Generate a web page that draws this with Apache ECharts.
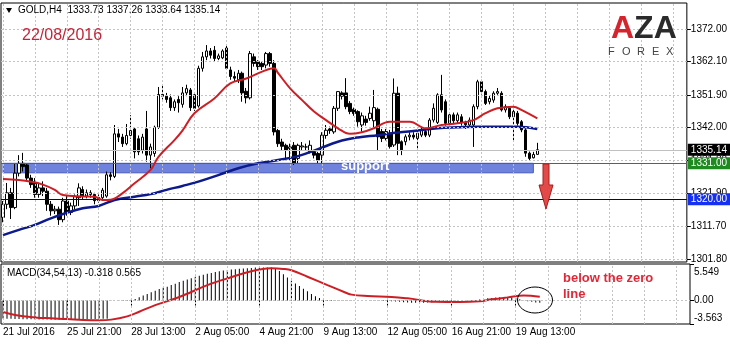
<!DOCTYPE html>
<html><head><meta charset="utf-8">
<script src="https://cdn.jsdelivr.net/npm/echarts@6/dist/echarts.min.js"></script>
<style>html,body{margin:0;padding:0;background:#fff}#c{width:730px;height:345px}</style>
</head><body><div id="c"></div>
<script>
// ---------- data ----------
const symbolName = 'GOLD,H4';
const dateText = '22/08/2016';
const slotCount = 172; // bars + empty right margin of the chart
const timeLabels = ['21 Jul 2016','25 Jul 21:00','28 Jul 13:00','2 Aug 05:00','4 Aug 21:00','9 Aug 13:00','12 Aug 05:00','16 Aug 21:00','19 Aug 13:00'];
const timeLabelBars = [0,16,32,48,64,80,96,112,128];
const gridBars = [0,8,16,24,32,40,48,56,64,72,80,88,96,104,112,120,128,136,144,152,160,168];
const priceTicks = [1372.00,1362.10,1351.90,1342.00,1331.80,1321.90,1311.70,1301.80];
const macdTicks = [5.549, 0, -3.563];
const supportBand = [1328.1, 1331.0];
const supportBars = [0, 133];
const levelSupport = 1331.00;
const levelTarget = 1320.00;
// [open, close, low, high]
const candles = [
[1314.5,1318.5,1313.0,1319.5],[1318.5,1322.0,1317.0,1325.0],[1322.0,1317.5,1314.0,1323.5],[1317.5,1328.0,1317.0,1331.0],
[1328.0,1331.0,1327.0,1333.5],[1331.0,1330.0,1328.5,1334.2],[1330.5,1326.5,1325.5,1331.0],[1326.5,1324.5,1323.5,1327.5],
[1325.0,1321.5,1320.5,1326.5],[1321.5,1323.5,1320.5,1325.0],[1323.5,1322.5,1321.0,1325.5],[1322.5,1318.5,1316.5,1323.5],
[1318.5,1316.5,1315.0,1319.5],[1316.5,1317.0,1315.5,1318.0],[1317.0,1313.8,1312.2,1317.8],[1313.8,1319.5,1313.0,1320.5],
[1319.5,1316.0,1315.0,1321.0],[1316.0,1318.0,1315.2,1319.0],[1318.0,1320.8,1317.0,1321.5],[1320.5,1323.5,1318.0,1324.9],
[1323.0,1321.0,1320.0,1324.0],[1321.0,1322.0,1320.3,1323.0],[1322.0,1321.5,1320.5,1322.8],[1321.5,1319.6,1318.5,1322.0],
[1319.6,1320.6,1319.0,1321.5],[1320.5,1322.8,1319.5,1323.5],[1321.0,1327.5,1320.5,1328.5],[1327.5,1327.0,1325.8,1328.3],
[1327.0,1340.0,1326.5,1342.7],[1340.0,1339.0,1337.5,1341.5],[1339.0,1337.0,1336.0,1340.0],[1337.0,1339.5,1336.5,1343.0],
[1339.5,1341.0,1338.5,1345.7],[1341.5,1334.5,1332.5,1342.0],[1338.5,1334.5,1333.5,1339.5],[1335.0,1339.0,1334.0,1340.0],
[1341.5,1333.5,1331.5,1347.0],[1333.5,1336.0,1329.5,1337.0],[1334.0,1342.0,1333.0,1342.5],[1342.0,1352.0,1341.5,1354.3],
[1352.0,1351.5,1350.5,1355.0],[1351.5,1350.5,1349.5,1352.5],[1351.0,1348.0,1347.0,1352.0],[1348.0,1349.8,1347.0,1350.5],
[1350.5,1349.5,1346.5,1351.5],[1349.0,1352.5,1348.0,1354.3],[1352.5,1353.8,1351.5,1355.0],[1353.4,1348.0,1347.0,1354.0],
[1351.9,1347.8,1347.0,1352.5],[1348.5,1360.0,1348.0,1360.8],[1360.0,1363.5,1359.0,1365.0],[1363.5,1365.3,1362.5,1367.1],
[1365.3,1364.0,1363.0,1366.2],[1365.5,1363.0,1362.0,1366.8],[1363.0,1363.8,1362.5,1364.5],[1363.2,1365.3,1362.8,1365.8],
[1366.2,1360.0,1359.5,1366.8],[1359.5,1357.5,1356.5,1360.5],[1357.5,1357.0,1356.0,1359.0],[1356.5,1358.5,1355.5,1359.5],
[1358.5,1352.5,1349.8,1359.0],[1353.0,1351.0,1349.3,1354.0],[1351.0,1364.5,1350.5,1365.3],[1363.5,1361.5,1360.5,1364.5],
[1362.0,1360.5,1359.5,1362.5],[1361.5,1360.5,1359.5,1362.2],[1361.0,1364.5,1360.0,1365.0],[1364.5,1361.5,1360.5,1365.0],
[1361.5,1340.6,1339.5,1362.5],[1341.0,1337.0,1336.0,1341.5],[1337.5,1336.2,1335.0,1338.5],[1336.5,1335.0,1332.5,1337.0],
[1335.5,1336.0,1332.0,1337.0],[1336.5,1331.1,1330.5,1337.5],[1332.5,1336.5,1331.0,1337.0],[1336.0,1336.3,1335.0,1337.5],
[1336.0,1336.0,1335.0,1337.0],[1334.5,1336.5,1334.0,1338.0],[1334.5,1333.5,1332.5,1335.0],[1334.0,1332.0,1331.0,1334.5],
[1333.5,1339.6,1331.0,1340.5],[1339.5,1341.1,1338.5,1342.7],[1341.5,1341.0,1340.0,1342.2],[1340.6,1347.8,1340.0,1348.5],
[1347.8,1352.9,1347.0,1353.0],[1352.5,1351.5,1350.5,1353.0],[1352.5,1348.3,1347.5,1357.0],[1349.3,1346.8,1346.0,1350.0],
[1347.5,1346.2,1345.5,1348.0],[1346.8,1343.7,1342.2,1347.2],[1342.7,1345.5,1340.7,1346.5],[1344.5,1343.5,1342.5,1345.5],
[1344.7,1346.3,1344.0,1348.3],[1344.0,1348.0,1341.5,1353.4],[1347.5,1339.1,1335.0,1348.0],[1340.7,1338.6,1337.5,1341.5],
[1338.6,1340.7,1338.0,1341.5],[1340.2,1336.1,1335.5,1341.2],[1336.6,1352.4,1336.0,1356.9],[1352.4,1337.1,1333.5,1354.4],
[1337.6,1335.1,1333.5,1338.0],[1337.6,1339.1,1336.5,1339.8],[1339.1,1339.6,1338.0,1340.5],[1339.6,1339.0,1338.3,1340.5],
[1338.6,1340.2,1335.6,1341.0],[1339.6,1341.2,1339.0,1342.0],[1340.7,1339.6,1339.0,1341.5],[1339.6,1344.2,1339.0,1344.8],
[1344.2,1347.8,1343.5,1349.3],[1343.5,1351.9,1343.0,1352.4],[1351.9,1347.3,1346.5,1358.0],[1349.8,1343.2,1342.5,1350.5],
[1343.2,1345.8,1342.5,1346.5],[1345.8,1344.0,1343.2,1346.5],[1344.0,1345.8,1343.3,1346.5],[1345.2,1343.5,1342.5,1346.0],
[1343.5,1342.8,1341.5,1344.0],[1342.7,1344.2,1341.8,1345.0],[1342.7,1348.3,1336.0,1349.0],[1348.3,1355.9,1347.5,1356.5],
[1355.9,1352.9,1352.0,1356.5],[1352.9,1349.3,1348.8,1353.5],[1349.8,1350.8,1349.0,1351.8],[1350.3,1352.4,1349.5,1353.0],
[1352.4,1352.9,1351.9,1354.0],[1352.4,1347.3,1346.8,1353.0],[1347.3,1348.3,1346.5,1349.0],[1347.8,1345.2,1344.5,1348.3],
[1345.2,1346.8,1337.6,1347.3],[1346.3,1343.2,1342.5,1347.0],[1343.7,1341.2,1340.5,1344.2],[1341.2,1334.1,1333.0,1341.7],
[1334.1,1332.5,1332.0,1334.6],[1332.7,1333.7,1332.5,1334.5],[1333.73,1335.14,1333.64,1337.26]
];
// moving averages read at sample bars: [bar, value]
const maRed = [[0,1326.2],[4,1325.9],[7,1325.4],[10,1324.5],[13,1322.9],[15,1321.3],[20,1320.9],[23,1320.8],[25,1319.8],[27,1319.9],
[30,1321.9],[33,1324.9],[37,1329.0],[39,1333.0],[43,1338.1],[45,1341.0],[48,1346.3],[53,1350.8],[57,1355.4],[61,1356.9],[65,1359.0],
[68,1360.0],[69,1358.5],[72,1353.9],[75,1350.3],[78,1346.8],[81,1344.2],[84,1341.7],[87,1340.0],[90,1340.5],[93,1341.7],[97,1343.7],
[102,1343.7],[106,1341.7],[110,1342.7],[114,1343.2],[118,1344.2],[121,1346.3],[124,1347.8],[128,1348.3],[130,1347.3],[134,1344.7]];
const maBlue = [[0,1309.1],[4,1310.7],[8,1312.2],[12,1314.2],[16,1315.9],[20,1317.3],[24,1318.0],[28,1319.8],[33,1320.8],[37,1321.6],
[41,1322.9],[45,1324.1],[49,1325.4],[54,1327.4],[59,1329.5],[64,1331.0],[69,1332.0],[74,1333.2],[79,1335.3],[84,1337.6],[89,1338.9],
[94,1339.6],[99,1340.4],[104,1341.0],[109,1341.7],[114,1342.0],[119,1342.2],[124,1342.2],[129,1342.2],[134,1341.5]];
// MACD histogram, one per bar
const macdHist = [
-2.72,-2.75,-2.78,-2.80,-2.82,-2.83,-2.85,-2.86,-2.87,-2.88,-2.88,-2.89,-2.90,-2.90,-2.90,-2.90,-2.90,-2.90,-2.88,-2.88,
-2.86,-2.85,-2.84,-2.82,-2.80,-2.78,-2.75,-0.05,0.02,0.05,0.08,0.10,0.12,0.25,0.50,0.75,1.00,1.25,1.50,1.75,
1.95,2.10,2.35,2.55,2.80,3.00,3.20,3.40,3.60,3.75,3.90,4.05,4.20,4.35,4.45,4.55,4.62,4.70,4.76,4.82,
4.87,4.90,4.95,5.00,5.02,5.03,5.03,5.00,4.90,4.50,4.00,3.50,3.00,2.60,2.20,1.80,1.40,1.00,0.65,0.40,
0.20,0.10,0.08,0.06,0.05,0.05,0.04,0.03,0.02,0.02,0.01,0.00,-0.02,-0.03,-0.05,-0.06,-0.08,-0.10,-0.15,-0.20,
-0.25,-0.30,-0.32,-0.35,-0.35,-0.33,-0.30,-0.25,-0.20,-0.15,-0.10,-0.08,-0.05,-0.03,0.00,0.02,0.05,0.08,0.10,0.15,
0.25,0.35,0.40,0.45,0.50,0.50,0.48,0.45,0.40,0.20,0.05,-0.10,-0.20,-0.28,-0.318];
const macdSignal = [[0,-1.75],[3,-2.2],[8,-2.56],[12,-2.7],[16,-2.8],[20,-2.95],[24,-3.0],[27,-2.9],[31,-2.4],[34,-1.7],[38,-0.7],
[43,0.3],[47,1.3],[51,2.35],[56,3.37],[61,4.3],[64,4.7],[67,4.9],[70,4.8],[72,4.6],[76,3.62],[81,2.35],[85,1.34],[87,0.9],[91,0.68],
[97,0.55],[101,0.33],[108,-0.18],[114,-0.22],[119,-0.1],[122,0.18],[126,0.48],[130,0.75],[134,0.565]];

// ---------- chart ----------
const FONT = 'Liberation Sans';
const cats = Array.from({length: slotCount}, (_, i) => String(i));
const last = candles[candles.length - 1];
const bid = last[1];
const headerText = symbolName + '  ' + [last[0], last[3], last[2], last[1]].map(v => v.toFixed(2)).join(' ');
const macdText = 'MACD(34,54,13) ' + macdHist[macdHist.length - 1].toFixed(3) + ' ' + macdSignal[macdSignal.length - 1][1].toFixed(3);
const dotted = {color: '#c4c4c4', width: 1, type: [2, 2]};
const macdMin = macdTicks[2], macdMax = macdTicks[0];

const chart = echarts.init(document.getElementById('c'), null, {renderer: 'canvas'});
const txt = {fontFamily: FONT, fontSize: 10, color: '#000'};
chart.setOption({
  animation: false,
  backgroundColor: '#fff',
  grid: [
    {left: 1, right: 40, top: 3, height: 259, show: true, borderColor: '#000', borderWidth: 1, backgroundColor: '#fff'},
    {left: 1, right: 40, top: 264, height: 60, show: true, borderColor: '#000', borderWidth: 1, backgroundColor: '#fff'}
  ],
  xAxis: [
    {type: 'category', gridIndex: 0, data: cats, boundaryGap: true,
     axisLine: {show: false}, axisTick: {show: false}, axisLabel: {show: false}, splitLine: {show: false}},
    {type: 'category', gridIndex: 1, data: cats, boundaryGap: true,
     axisLine: {show: false},
     axisTick: {show: true, alignWithLabel: true, length: 5, interval: (i) => timeLabelBars.includes(i), lineStyle: {color: '#000'}},
     axisLabel: Object.assign({show: true, interval: (i) => timeLabelBars.includes(i),
       formatter: (v) => { const k = timeLabelBars.indexOf(Number(v)); return k >= 0 ? timeLabels[k] : ''; },
       align: 'left', margin: 3}, txt),
     splitLine: {show: false}}
  ],
  yAxis: [
    {type: 'value', gridIndex: 0, position: 'right', min: 1300.88, max: 1379.94, scale: true,
     axisLine: {show: false},
     axisTick: {show: true, customValues: priceTicks, length: 4, lineStyle: {color: '#000'}},
     axisLabel: Object.assign({customValues: priceTicks, formatter: (v) => v.toFixed(2), margin: 4}, txt),
     splitLine: {show: false}},
    {type: 'value', gridIndex: 1, position: 'right', min: macdMin, max: macdMax,
     axisLine: {show: false},
     axisTick: {show: true, customValues: macdTicks, length: 4, lineStyle: {color: '#000'}},
     axisLabel: Object.assign({customValues: macdTicks, margin: 4,
       formatter: (v) => { const s = v === 0 ? '0.00' : v.toFixed(3); if (v === macdMax) return '{t|' + s + '}'; if (v === macdMin) return '{b|' + s + '}'; return s; },
       rich: {t: Object.assign({padding: [16, 0, 0, 0]}, txt), b: Object.assign({padding: [0, 0, 12, 0]}, txt)}}, txt),
     splitLine: {show: false}}
  ],
  series: [
    {type: 'line', xAxisIndex: 0, yAxisIndex: 0, data: [], z: 0, silent: true,
     markLine: {silent: true, symbol: 'none', label: {show: false}, lineStyle: dotted,
       data: gridBars.map(b => ({xAxis: b})).concat(priceTicks.map(p => ({yAxis: p})))},
     markArea: {silent: true, itemStyle: {color: '#6f82dc', borderColor: '#4558c0', borderWidth: 1},
       data: [[{xAxis: supportBars[0], yAxis: supportBand[0]}, {xAxis: supportBars[1], yAxis: supportBand[1]}]]}},
    {type: 'line', xAxisIndex: 0, yAxisIndex: 0, data: [], z: 1, silent: true,
     markLine: {silent: true, symbol: 'none',
       label: {show: true, position: 'end', distance: 1, formatter: (p) => Number(p.value).toFixed(2), color: '#fff', fontFamily: FONT, fontSize: 10, padding: [1, 3, 1, 3]},
       data: [
         {yAxis: bid, lineStyle: {color: '#c0c0c0', width: 1, type: 'solid'}, label: {backgroundColor: '#000'}},
         {yAxis: levelSupport, lineStyle: {color: '#1f8a1f', width: 1, type: 'solid'}, label: {backgroundColor: '#1f8a1f'}},
         {yAxis: levelTarget, lineStyle: {color: '#000080', width: 1, type: 'solid'}, label: {backgroundColor: '#1530f0'}}
       ]}},
    {type: 'candlestick', xAxisIndex: 0, yAxisIndex: 0, data: candles, barWidth: 3, z: 3,
     itemStyle: {color: '#fff', color0: '#000', borderColor: '#000', borderColor0: '#000', borderWidth: 1}},
    {type: 'line', xAxisIndex: 0, yAxisIndex: 0, data: maBlue, smooth: 0.4, showSymbol: false, z: 4,
     lineStyle: {color: '#0d1a8c', width: 2.5}},
    {type: 'line', xAxisIndex: 0, yAxisIndex: 0, data: maRed, smooth: 0.4, showSymbol: false, z: 5,
     lineStyle: {color: '#cc1f25', width: 2}},
    {type: 'line', xAxisIndex: 1, yAxisIndex: 1, data: [], z: 0, silent: true,
     markLine: {silent: true, symbol: 'none', label: {show: false}, lineStyle: dotted,
       data: gridBars.map(b => ({xAxis: b})).concat([{yAxis: 0}])}},
    {type: 'bar', xAxisIndex: 1, yAxisIndex: 1, data: macdHist, barWidth: 1, z: 3,
     itemStyle: {color: '#000'}},
    {type: 'line', xAxisIndex: 1, yAxisIndex: 1, data: macdSignal, smooth: 0.4, showSymbol: false, z: 4,
     lineStyle: {color: '#cc1f25', width: 2}}
  ],
  graphic: [
    {type: 'polygon', z: 100, shape: {points: [[6, 8], [12, 8], [9, 13]]}, style: {fill: '#000'}},
    {type: 'text', z: 100, left: 18, top: 5, style: {text: headerText, font: '10px ' + FONT, fill: '#000'}},
    {type: 'text', z: 100, left: 22, top: 28, style: {text: dateText, font: '16px ' + FONT, fill: '#c0283a'}},
    {type: 'text', z: 100, left: 7, top: 268, style: {text: macdText, font: '10px ' + FONT, fill: '#000'}},
    {type: 'text', z: 100, left: 341, top: 160, style: {text: 'support', font: 'bold 13px ' + FONT, fill: '#fff'}},
    {type: 'polygon', z: 100, shape: {points: [[543, 164], [549, 164], [549, 185], [553, 185], [546, 209], [539, 185], [543, 185]]},
     style: {fill: '#e24a4a', stroke: '#a81c1c', lineWidth: 1}},
    {type: 'text', z: 100, left: 563, top: 272, style: {text: 'below the zero', font: 'bold 13px ' + FONT, fill: '#e02838'}},
    {type: 'text', z: 100, left: 563, top: 288, style: {text: 'line', font: 'bold 13px ' + FONT, fill: '#e02838'}},
    {type: 'ellipse', z: 100, shape: {cx: 535, cy: 300, rx: 17.5, ry: 13}, style: {fill: 'none', stroke: '#000', lineWidth: 1}},
    {type: 'text', z: 100, left: 611, top: 13, style: {text: '{r|A}{k|ZA}', font: 'bold 32px ' + FONT,
      rich: {r: {fill: '#d4252f', font: 'bold 32px ' + FONT}, k: {fill: '#2b2b2b', font: 'bold 32px ' + FONT}}}},
    {type: 'text', z: 100, left: 608, top: 46, style: {text: 'F', font: '11px ' + FONT, fill: '#444'}},
    {type: 'text', z: 100, left: 622, top: 46, style: {text: 'O', font: '11px ' + FONT, fill: '#444'}},
    {type: 'text', z: 100, left: 637, top: 46, style: {text: 'R', font: '11px ' + FONT, fill: '#444'}},
    {type: 'text', z: 100, left: 652, top: 46, style: {text: 'E', font: '11px ' + FONT, fill: '#444'}},
    {type: 'text', z: 100, left: 666, top: 46, style: {text: 'X', font: '11px ' + FONT, fill: '#444'}}
  ]
});
</script></body></html>
